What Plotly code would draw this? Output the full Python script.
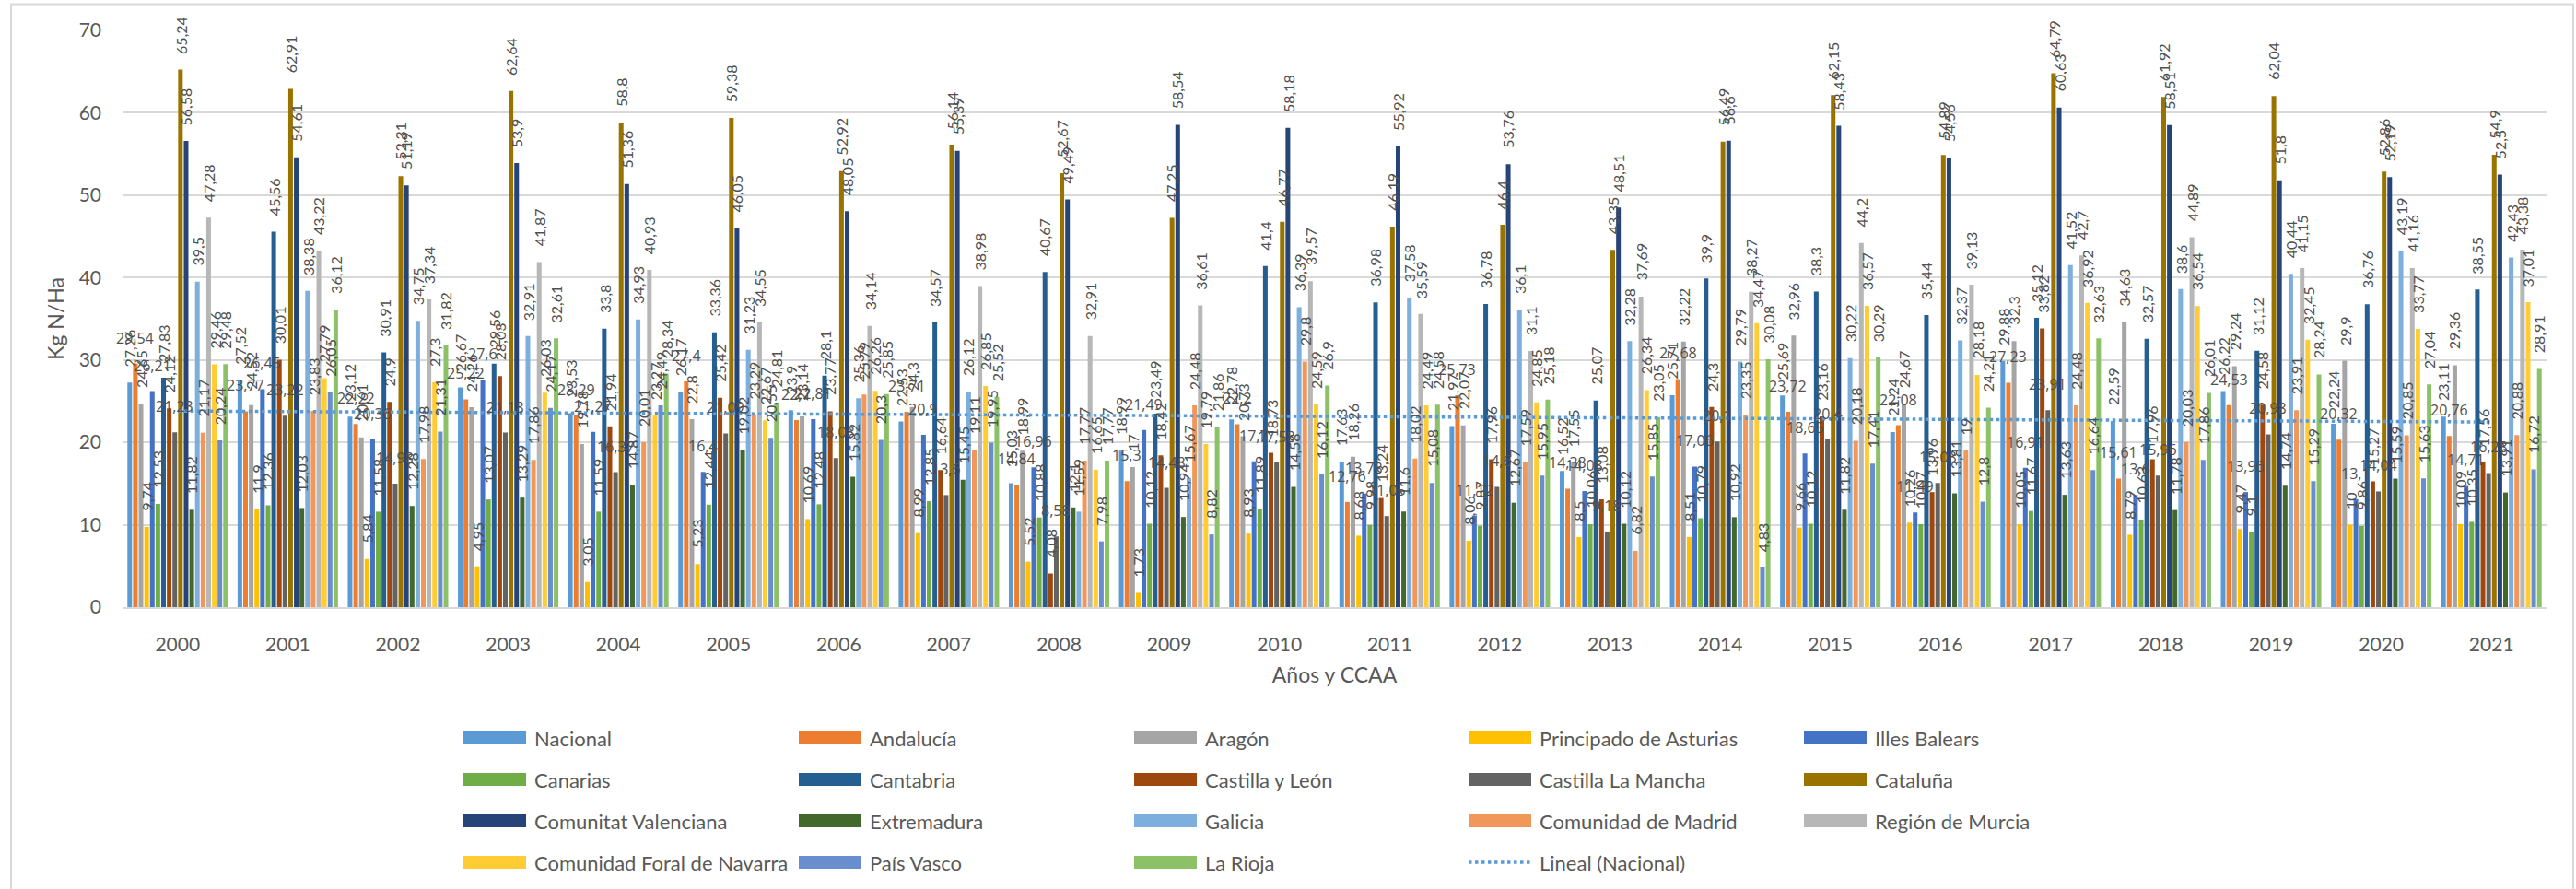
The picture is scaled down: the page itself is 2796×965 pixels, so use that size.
import plotly.graph_objects as go

years = list(range(2000, 2022))

nacional = [27.26,27.52,23.12,26.67,23.53,26.17,23.9,22.53,15.03,18.99,22.78,17.63,21.97,16.52,25.71,25.69,21.24,29.88,22.59,26.22,22.24,23.11]
andalucia = [29.54,23.77,22.22,25.22,23.29,27.4,22.7,23.71,14.84,15.3,22.2,12.76,25.73,14.38,27.68,23.72,22.08,27.23,15.61,24.53,20.32,20.76]
aragon = [24.65,24.52,20.61,24.26,19.78,22.8,23.14,24.3,18.99,17,20.73,18.26,22.07,17.55,32.22,32.96,24.67,32.3,34.63,29.24,29.9,29.36]
asturias = [9.74,11.9,5.84,4.95,3.05,5.23,10.69,8.99,5.52,1.73,8.93,8.68,8.06,8.5,8.51,9.66,10.26,10.05,8.79,9.47,10,10.09]
baleares = [26.21,26.45,20.36,27.6,21.27,16.4,22.81,20.9,16.96,21.49,17.7,13.78,11.12,14.08,17.06,18.65,11.49,16.91,13.6,13.96,13.1,14.71]
canarias = [12.53,12.36,11.58,13.07,11.59,12.44,12.48,12.85,10.88,10.12,11.89,9.98,9.87,10.06,10.79,10.12,10.07,11.67,10.63,9.1,9.86,10.35]
cantabria = [27.83,45.56,30.91,29.56,33.8,33.36,28.1,34.57,40.67,23.49,41.4,36.98,36.78,25.07,39.9,38.3,35.44,35.12,32.57,31.12,36.76,38.55]
castilla_leon = [24.12,30.01,24.9,28.03,21.94,25.42,23.77,16.64,4.08,18.42,18.73,13.24,17.96,13.08,24.3,23.16,13.96,33.82,17.96,24.58,15.27,17.56]
castilla_mancha = [21.23,23.22,14.98,21.18,16.37,21.09,18.08,13.6,8.58,14.48,17.58,11.05,14.6,9.18,20.1,20.4,15.08,23.91,15.96,20.98,14.04,16.28]
cataluna = [65.24,62.91,52.31,62.64,58.8,59.38,52.92,56.14,52.67,47.25,46.77,46.19,46.4,43.35,56.49,62.15,54.89,64.79,61.92,62.04,52.86,54.9]
valenciana = [56.58,54.61,51.19,53.9,51.36,46.05,48.05,55.39,49.49,58.54,58.18,55.92,53.76,48.51,56.6,58.43,54.56,60.63,58.51,51.8,52.19,52.5]
extremadura = [11.82,12.03,12.28,13.29,14.87,19.02,15.82,15.45,12.1,10.94,14.58,11.6,12.67,10.12,10.92,11.82,13.81,13.63,11.78,14.74,15.59,13.91]
galicia = [39.5,38.38,34.75,32.91,34.93,31.23,25.36,26.12,11.59,15.67,36.39,37.58,36.1,32.28,29.79,30.22,32.37,41.52,38.6,40.44,43.19,42.43]
madrid = [21.17,23.83,17.98,17.86,20.01,23.29,25.79,19.11,17.77,24.48,29.8,18.02,17.59,6.82,23.35,20.18,19,24.48,20.03,23.91,20.85,20.88]
murcia = [47.28,43.22,37.34,41.87,40.93,34.55,34.14,38.98,32.91,36.61,39.57,35.59,31.1,37.69,38.27,44.2,39.13,42.7,44.89,41.15,41.16,43.38]
navarra = [29.46,27.79,27.3,26.03,23.27,22.67,26.26,26.85,16.65,19.79,24.59,24.49,24.85,26.34,34.47,36.57,28.18,36.92,36.54,32.45,33.77,37.01]
pais_vasco = [20.24,26.05,21.31,24.17,24.49,20.55,20.3,19.95,7.98,8.82,16.12,15.08,15.95,15.85,4.83,17.41,12.8,16.64,17.86,15.29,15.63,16.72]
la_rioja = [29.48,36.12,31.82,32.61,28.34,24.81,25.85,25.52,17.77,21.86,26.9,24.58,25.18,23.05,30.08,30.29,24.21,32.63,26.01,28.24,27.04,28.91]

trend_years = [2000, 2021]
trend_nacional = [23.8, 22.47]

series = [
    ("Nacional", nacional, "#5b9bd5", -90),
    ("Andalucía", andalucia, "#ed7d31", 0),
    ("Aragón", aragon, "#a5a5a5", -90),
    ("Principado de Asturias", asturias, "#ffc000", -90),
    ("Illes Balears", baleares, "#4472c4", 0),
    ("Canarias", canarias, "#70ad47", -90),
    ("Cantabria", cantabria, "#255e91", -90),
    ("Castilla y León", castilla_leon, "#9e480e", -90),
    ("Castilla La Mancha", castilla_mancha, "#636363", 0),
    ("Cataluña", cataluna, "#997300", -90),
    ("Comunitat Valenciana", valenciana, "#264478", -90),
    ("Extremadura", extremadura, "#43682b", -90),
    ("Galicia", galicia, "#7cafdd", -90),
    ("Comunidad de Madrid", madrid, "#f1975a", -90),
    ("Región de Murcia", murcia, "#b7b7b7", -90),
    ("Comunidad Foral de Navarra", navarra, "#ffcd33", -90),
    ("País Vasco", pais_vasco, "#698ed0", -90),
    ("La Rioja", la_rioja, "#8cc168", -90),
]

W, H = 2796, 965
L, R, T, B = 133, 2764, 33, 659
BARGAP = 0.079
GROUPGAP = 0.18
FONT = "Lato, 'Open Sans', sans-serif"
FONT_WIDE = "'Open Sans', Lato, sans-serif"
TXT = "#595959"
GRID = "#d9d9d9"
TREND = "#5b9bd5"

def px(x): return (x - L) / (R - L)
def py(y): return (B - y) / (B - T)

fig = go.Figure()
n = len(series)
annotations = []
for i, (name, vals, color, ang) in enumerate(series):
    fig.add_trace(go.Bar(name=name, x=years, y=vals, marker=dict(color=color, line_width=0)))
    off = (i - (n - 1) / 2) / n * (1 - BARGAP)
    for yr, v in zip(years, vals):
        annotations.append(dict(
            x=yr + off, y=v, xref="x", yref="y",
            text=str(v).replace(".", ","), showarrow=False,
            textangle=ang, xanchor="center", yanchor="bottom",
            yshift=15,
            font=dict(family=FONT if ang else FONT_WIDE, size=16, color="#505050"),
        ))

fig.add_trace(go.Scatter(name="Lineal (Nacional)", x=trend_years, y=trend_nacional, mode="lines",
                         line=dict(color=TREND, width=3.5, dash="dot")))

# legend drawn by hand: wide swatches in a 5-column grid
col_x = [503, 867, 1231, 1594, 1958]
row_y = [801, 846, 891, 936]
shapes = [dict(type="rect", xref="paper", yref="paper", x0=px(12), x1=px(2793),
               y0=py(975), y1=py(4.5), line=dict(color=GRID, width=2), layer="below")]
names = [s[0] for s in series] + ["Lineal (Nacional)"]
colors = [s[2] for s in series] + [TREND]
for k, (name, color) in enumerate(zip(names, colors)):
    r, c = divmod(k, 5)
    x0, yc = col_x[c], row_y[r]
    if name.startswith("Lineal"):
        shapes.append(dict(type="line", xref="paper", yref="paper", x0=px(x0), x1=px(x0 + 68),
                           y0=py(yc), y1=py(yc), line=dict(color=color, width=3.5, dash="dot")))
    else:
        shapes.append(dict(type="rect", xref="paper", yref="paper", x0=px(x0), x1=px(x0 + 68),
                           y0=py(yc + 7), y1=py(yc - 7), fillcolor=color, line_width=0))
    annotations.append(dict(x=px(x0 + 75), y=py(yc), xref="paper", yref="paper", text=name,
                            showarrow=False, xanchor="left", yanchor="middle",
                            font=dict(family=FONT, size=22, color=TXT)))

fig.update_layout(
    width=W, height=H, autosize=False,
    margin=dict(l=L, r=W - R, t=T, b=H - B, pad=0),
    paper_bgcolor="white", plot_bgcolor="white",
    barmode="group", bargap=BARGAP, bargroupgap=GROUPGAP,
    showlegend=False,
    font=dict(family=FONT, color=TXT),
    annotations=annotations, shapes=shapes,
    xaxis=dict(
        type="linear", range=[1999.5, 2021.5], tickmode="array", tickvals=years,
        ticktext=[str(y) for y in years], tickfont=dict(size=21, color=TXT),
        ticks="", showgrid=False, showline=True, linecolor=GRID, linewidth=2,
        zeroline=False, ticklabelstandoff=21, automargin=False,
        title=dict(text="Años y CCAA", font=dict(size=23, color=TXT), standoff=15),
    ),
    yaxis=dict(
        range=[0, 70], dtick=10, tickfont=dict(size=21, color=TXT), ticks="",
        showgrid=True, gridcolor=GRID, gridwidth=2, zeroline=False, showline=False,
        ticklabelstandoff=22, automargin=False,
        title=dict(text="Kg N/Ha", font=dict(size=23, color=TXT), standoff=9),
    ),
)

fig.write_html("out.html", config={"displayModeBar": False},
               post_script="document.body.style.margin='0';")
